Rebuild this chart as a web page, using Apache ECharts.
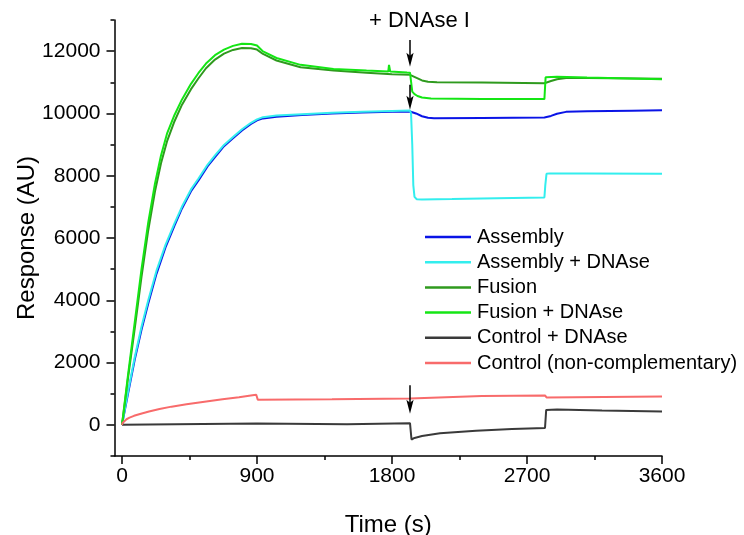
<!DOCTYPE html>
<html>
<head>
<meta charset="utf-8">
<script src="https://cdn.jsdelivr.net/npm/echarts/dist/echarts.min.js"></script>
<style>
  html, body { margin: 0; padding: 0; background: #fff; }
  #chart { width: 744px; height: 535px; }
</style>
</head>
<body>
<div id="chart"></div>
<script>
// tick positions
const xMajor = [0, 900, 1800, 2700, 3600];
const xMinor = [450, 1350, 2250, 3150];
const yMajor = [0, 2000, 4000, 6000, 8000, 10000, 12000];
const yMinor = [-1000, 1000, 3000, 5000, 7000, 9000, 11000, 13000];

// [time (s), response (AU)]
const assembly = [[0,0],[40,1000],[85,2100],[130,3050],[175,3900],[230,4850],[290,5700],[350,6400],[400,6950],[460,7500],[510,7850],[570,8300],[620,8600],[680,8950],[740,9200],[800,9450],[860,9660],[900,9780],[940,9840],[1030,9890],[1200,9950],[1400,9995],[1600,10030],[1800,10050],[1920,10060],[1960,10000],[2000,9910],[2040,9860],[2080,9845],[2400,9855],[2816,9870],[2860,9920],[2900,9990],[2960,10050],[3100,10070],[3400,10090],[3600,10100]];
const assemblyDnase = [[0,0],[40,1060],[85,2180],[130,3150],[175,4000],[230,4950],[290,5780],[350,6470],[400,7010],[460,7560],[510,7910],[570,8350],[620,8650],[680,8990],[740,9240],[800,9490],[860,9700],[900,9810],[940,9880],[1030,9930],[1200,9975],[1400,10020],[1600,10055],[1800,10080],[1920,10095],[1927,10000],[1935,9000],[1942,7700],[1950,7320],[1965,7245],[2000,7235],[2200,7250],[2500,7275],[2816,7300],[2822,7700],[2830,8060],[2850,8075],[3100,8070],[3600,8060]];
const fusion = [[0,0],[40,1500],[85,3100],[130,4750],[175,6250],[220,7500],[260,8400],[300,9100],[350,9750],[400,10280],[460,10780],[510,11130],[560,11450],[620,11730],[680,11920],[740,12040],[800,12100],[860,12090],[900,12050],[940,11910],[1030,11700],[1190,11485],[1410,11375],[1630,11310],[1800,11260],[1920,11240],[1960,11150],[2000,11060],[2040,11020],[2100,11000],[2400,10990],[2816,10970],[2860,11040],[2900,11100],[2960,11140],[3100,11140],[3600,11110]];
const fusionDnase = [[0,0],[40,1600],[85,3300],[130,5000],[175,6500],[220,7750],[260,8650],[300,9350],[350,9950],[400,10450],[460,10950],[510,11300],[560,11600],[620,11870],[680,12050],[740,12170],[800,12240],[860,12230],[900,12180],[940,11990],[1030,11780],[1190,11560],[1410,11430],[1630,11375],[1775,11345],[1780,11560],[1788,11345],[1900,11315],[1920,11310],[1927,11250],[1935,10700],[1950,10620],[1970,10560],[2000,10510],[2060,10480],[2400,10465],[2816,10460],[2824,11160],[2900,11175],[3100,11150],[3600,11100]];
const controlDnase = [[0,0],[10,30],[900,40],[910,5],[1500,20],[1920,55],[1930,-470],[1950,-420],[2000,-360],[2120,-270],[2360,-190],[2600,-135],[2820,-100],[2828,480],[2900,490],[3200,460],[3600,430]];
const control = [[0,0],[5,70],[15,130],[30,180],[50,230],[80,290],[120,350],[180,430],[250,510],[330,585],[430,660],[550,740],[670,820],[780,890],[870,950],[895,965],[905,810],[1400,825],[1920,850],[1930,900],[2400,925],[2820,945],[2830,880],[3600,910]];

// DNAse I injection arrows: [time, from, to]
const arrows = [[1920, 12360, 11500], [1920, 10920, 10120], [1920, 1270, 360]];

const names = ['Assembly', 'Assembly + DNAse', 'Fusion', 'Fusion + DNAse', 'Control + DNAse', 'Control (non-complementary)'];
const datasets = [assembly, assemblyDnase, fusion, fusionDnase, controlDnase, control];
const colors = ['#0a14e6', '#33eeee', '#2f9a1e', '#14e614', '#3a3a3a', '#f86b6b'];

const font = "'Liberation Sans', Arial, sans-serif";
const chart = echarts.init(document.getElementById('chart'), null, { renderer: 'canvas' });

function plain(v) { return String(v); }

function xAxisDef(ticks, len, major) {
  return {
    type: 'value', min: -50, max: 3600, position: 'bottom',
    name: major ? 'Time (s)' : '', nameLocation: 'middle', nameGap: 57, nameMoveOverlap: false,
    nameTextStyle: { fontSize: 24, color: '#000', fontFamily: font },
    axisLine: { show: major, onZero: false, lineStyle: { color: '#000', width: 1.5 } },
    axisTick: { customValues: ticks, length: len, lineStyle: { color: '#000', width: 1.5 } },
    axisLabel: { show: major, customValues: ticks, formatter: plain, fontSize: 21, color: '#000', fontFamily: font, margin: 10 },
    splitLine: { show: false }
  };
}
function yAxisDef(ticks, len, major) {
  return {
    type: 'value', min: -1000, max: 13000, position: 'left',
    name: major ? 'Response (AU)' : '', nameLocation: 'middle', nameGap: 75, nameMoveOverlap: false,
    nameTextStyle: { fontSize: 24, color: '#000', fontFamily: font },
    axisLine: { show: major, onZero: false, lineStyle: { color: '#000', width: 1.5 } },
    axisTick: { customValues: ticks, length: len, lineStyle: { color: '#000', width: 1.5 } },
    axisLabel: { show: major, customValues: ticks, formatter: plain, fontSize: 21, color: '#000', fontFamily: font, margin: 14 },
    splitLine: { show: false }
  };
}

const series = datasets.map((d, i) => ({
  name: names[i],
  type: 'line',
  data: d,
  symbol: 'none',
  lineStyle: { color: colors[i], width: 2 },
  itemStyle: { color: colors[i] },
  z: 2 + i
}));

series.push({
  name: 'arrows',
  type: 'custom',
  data: arrows,
  z: 20,
  renderItem: function (params, api) {
    const a = api.coord([api.value(0), api.value(1)]);
    const b = api.coord([api.value(0), api.value(2)]);
    return {
      type: 'group',
      children: [
        { type: 'line', shape: { x1: a[0], y1: a[1], x2: b[0], y2: b[1] - 10 }, style: { stroke: '#000', lineWidth: 1.5 } },
        { type: 'polygon', shape: { points: [[b[0], b[1]], [b[0] - 3.6, b[1] - 14], [b[0], b[1] - 11], [b[0] + 3.6, b[1] - 14]] }, style: { fill: '#000' } }
      ]
    };
  }
});

chart.setOption({
  animation: false,
  backgroundColor: '#fff',
  textStyle: { fontFamily: font },
  grid: { left: 114.5, right: 82, top: 20, bottom: 79, outerBoundsMode: 'none' },
  graphic: [{
    type: 'text', left: 369, top: 10,
    style: { text: '+ DNAse I', fontSize: 22, fontFamily: font, fill: '#000' }
  }],
  legend: {
    data: names,
    orient: 'vertical',
    left: 425, top: 227,
    padding: 0,
    icon: 'rect',
    itemWidth: 46, itemHeight: 2.5, itemGap: 5.2,
    textStyle: { fontSize: 20, lineHeight: 20, color: '#000', fontFamily: font, padding: [0, 0, 0, 1] }
  },
  xAxis: [xAxisDef(xMajor, 8, true), xAxisDef(xMinor, 4, false)],
  yAxis: [yAxisDef(yMajor, 8, true), yAxisDef(yMinor, 4, false)],
  series: series
});
</script>
</body>
</html>
